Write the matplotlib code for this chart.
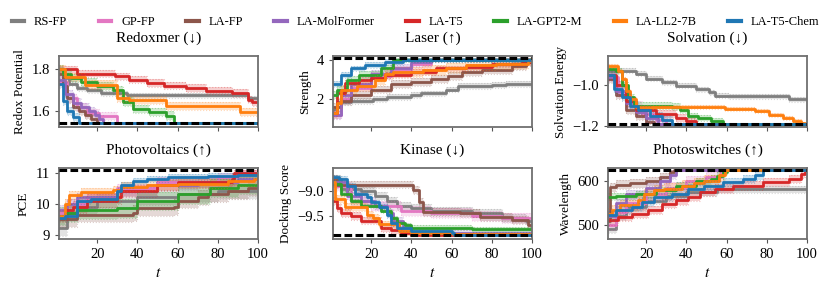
import numpy as np
import matplotlib
matplotlib.use("Agg")
import matplotlib.pyplot as plt
from matplotlib.lines import Line2D

plt.rcParams["font.family"] = ["Liberation Serif", "DejaVu Serif"]
plt.rcParams["mathtext.fontset"] = "stix"

# ----------------------------- DATA -----------------------------

methods = ["RS-FP", "GP-FP", "LA-FP", "LA-MolFormer", "LA-T5",
           "LA-GPT2-M", "LA-LL2-7B", "LA-T5-Chem"]
colors = ["#7f7f7f", "#e377c2", "#8c564b", "#9467bd", "#d62728",
          "#2ca02c", "#ff7f0e", "#1f77b4"]

# each curve: (iterations where best value changes, best value from there on)
redox = {
    "RS-FP": ([1, 3, 6, 10, 15, 22, 35, 95], [1.80, 1.76, 1.73, 1.71, 1.70, 1.685, 1.675, 1.662]),
    "GP-FP": ([1, 5, 10, 15, 21, 30], [1.74, 1.66, 1.62, 1.59, 1.575, 1.54]),
    "LA-FP": ([1, 3, 5, 8, 11, 14, 17, 20], [1.78, 1.72, 1.66, 1.62, 1.60, 1.58, 1.56, 1.54]),
    "LA-MolFormer": ([1, 4, 8, 12, 16, 19, 21, 23], [1.75, 1.68, 1.64, 1.62, 1.60, 1.58, 1.56, 1.54]),
    "LA-T5": ([1, 10, 29, 36, 45, 53, 64, 74, 87, 95, 97],
              [1.80, 1.78, 1.767, 1.751, 1.735, 1.722, 1.71, 1.698, 1.686, 1.654, 1.642]),
    "LA-GPT2-M": ([1, 3, 7, 12, 20, 28, 33, 38, 46, 54, 58],
                  [1.80, 1.78, 1.76, 1.74, 1.72, 1.70, 1.645, 1.61, 1.593, 1.577, 1.54]),
    "LA-LL2-7B": ([1, 4, 14, 30, 36, 54, 91], [1.80, 1.763, 1.727, 1.662, 1.654, 1.624, 1.593]),
    "LA-T5-Chem": ([1, 3, 5, 8, 11], [1.73, 1.65, 1.60, 1.57, 1.54]),
}
redox_band = [0.012, 0.02, 0.02, 0.02, 0.018, 0.02, 0.02, 0.02]

laser = {
    "RS-FP": ([1, 3, 10, 21, 28, 40, 45, 57, 63, 80, 87],
              [1.5, 1.85, 1.9, 2.0, 2.1, 2.2, 2.3, 2.5, 2.7, 2.75, 2.8]),
    "GP-FP": ([1, 5, 10, 20, 30, 40, 50], [1.2, 2.0, 2.6, 3.2, 3.5, 3.8, 4.0]),
    "LA-FP": ([1, 5, 10, 20, 30, 40, 50, 58, 65, 75, 90, 97],
              [1.6, 1.9, 2.2, 2.5, 2.8, 2.9, 3.05, 3.2, 3.4, 3.5, 3.7, 3.9]),
    "LA-MolFormer": ([1, 5, 10, 20, 30, 40, 50], [1.2, 2.2, 2.8, 3.3, 3.6, 3.9, 4.0]),
    "LA-T5": ([1, 3, 7, 14, 20, 27, 40, 52, 67, 80, 95],
              [1.3, 2.3, 2.83, 3.0, 3.08, 3.25, 3.42, 3.58, 3.67, 3.8, 3.9]),
    "LA-GPT2-M": ([1, 3, 8, 14, 25, 31], [2.2, 2.5, 3.0, 3.25, 3.58, 4.0]),
    "LA-LL2-7B": ([1, 3, 5, 13, 22, 27, 31, 46, 57, 67, 82, 98],
                  [1.3, 1.8, 2.5, 2.7, 3.0, 3.3, 3.4, 3.5, 3.6, 3.75, 3.8, 3.95]),
    "LA-T5-Chem": ([1, 5, 10, 17, 27, 36], [2.8, 3.25, 3.58, 3.78, 3.92, 4.0]),
}
laser_band = [0.15, 0.2, 0.2, 0.2, 0.15, 0.2, 0.25, 0.15]

solv = {
    "RS-FP": ([1, 15, 20, 28, 35, 45, 51, 54, 61, 91],
              [-0.93, -0.945, -0.97, -0.987, -1.003, -1.02, -1.035, -1.052, -1.055, -1.07]),
    "GP-FP": ([1, 6, 12, 18, 25, 30], [-0.96, -1.04, -1.10, -1.14, -1.17, -1.19]),
    "LA-FP": ([1, 5, 10, 15, 20, 24], [-0.97, -1.05, -1.12, -1.15, -1.18, -1.19]),
    "LA-MolFormer": ([1, 5, 10, 15, 20, 26], [-0.96, -1.03, -1.09, -1.13, -1.16, -1.19]),
    "LA-T5": ([1, 5, 10, 15, 25, 35, 40, 45], [-0.95, -1.0, -1.08, -1.12, -1.14, -1.16, -1.175, -1.19]),
    "LA-GPT2-M": ([1, 5, 8, 11, 14, 33, 37, 41, 46, 52, 58],
                  [-0.92, -0.93, -1.0, -1.06, -1.10, -1.105, -1.12, -1.15, -1.16, -1.175, -1.19]),
    "LA-LL2-7B": ([1, 6, 8, 10, 12, 15, 59, 74, 81, 88, 93, 97],
                  [-0.907, -0.93, -0.97, -1.03, -1.07, -1.107, -1.115, -1.125, -1.145, -1.16, -1.175, -1.185]),
    "LA-T5-Chem": ([1, 4, 8, 12, 16, 22, 28, 33], [-0.95, -1.02, -1.06, -1.10, -1.12, -1.15, -1.17, -1.19]),
}
solv_band = [0.012, 0.02, 0.02, 0.02, 0.02, 0.015, 0.01, 0.02]

pv = {
    "RS-FP": ([1, 5, 10, 20, 40, 60, 80], [9.2, 9.7, 9.9, 10.1, 10.2, 10.3, 10.4]),
    "GP-FP": ([1, 5, 15, 30, 50, 80, 90], [9.7, 10.0, 10.2, 10.5, 10.7, 10.85, 10.95]),
    "LA-FP": ([1, 10, 38, 40, 58, 60, 70, 75, 85, 95],
              [9.5, 9.65, 9.7, 9.85, 9.9, 10.1, 10.2, 10.3, 10.4, 10.5]),
    "LA-MolFormer": ([1, 5, 10, 30, 50, 70, 90], [9.8, 10.0, 10.2, 10.4, 10.6, 10.7, 10.8]),
    "LA-T5": ([1, 5, 8, 15, 30, 32, 50, 60, 87, 88],
              [9.6, 9.8, 9.9, 10.1, 10.2, 10.4, 10.6, 10.7, 10.8, 11.0]),
    "LA-GPT2-M": ([1, 4, 10, 30, 40, 60, 76, 90], [9.6, 9.7, 9.8, 9.85, 10.08, 10.3, 10.5, 10.6]),
    "LA-LL2-7B": ([1, 4, 6, 12, 28, 32, 45, 60, 85, 98],
                  [9.6, 10.0, 10.27, 10.37, 10.43, 10.55, 10.6, 10.65, 10.72, 10.8]),
    "LA-T5-Chem": ([1, 4, 10, 17, 30, 32, 38, 45, 55, 75, 90],
                   [9.55, 9.6, 10.1, 10.15, 10.4, 10.6, 10.72, 10.8, 10.85, 10.88, 10.93]),
}
pv_band = [0.25, 0.15, 0.25, 0.15, 0.2, 0.3, 0.15, 0.1]

kinase = {
    "RS-FP": ([1, 5, 15, 22, 28, 33, 40, 50, 70, 85, 97],
              [-8.75, -8.95, -9.0, -9.1, -9.2, -9.3, -9.35, -9.4, -9.45, -9.55, -9.62]),
    "GP-FP": ([1, 10, 20, 35, 50, 70, 85], [-8.9, -9.2, -9.3, -9.4, -9.45, -9.5, -9.55]),
    "LA-FP": ([1, 3, 41, 44, 46, 64, 74, 90, 98],
              [-8.74, -8.86, -8.98, -9.22, -9.42, -9.45, -9.52, -9.59, -9.69]),
    "LA-MolFormer": ([1, 8, 15, 22, 28, 31, 36, 40], [-8.8, -9.1, -9.2, -9.3, -9.45, -9.6, -9.75, -9.85]),
    "LA-T5": ([1, 3, 5, 10, 15, 25, 30, 35, 40], [-9.2, -9.35, -9.45, -9.5, -9.6, -9.75, -9.8, -9.85, -9.9]),
    "LA-GPT2-M": ([1, 5, 10, 15, 25, 30, 33, 37, 40, 70],
                  [-8.85, -9.05, -9.2, -9.3, -9.4, -9.55, -9.65, -9.7, -9.75, -9.78]),
    "LA-LL2-7B": ([1, 2, 7, 18, 21, 24, 34, 40, 60],
                  [-8.81, -9.15, -9.32, -9.49, -9.55, -9.68, -9.82, -9.85, -9.88]),
    "LA-T5-Chem": ([1, 4, 8, 12, 18, 20, 24, 28, 30, 33, 40, 60, 61],
                   [-8.71, -8.74, -8.88, -9.05, -9.11, -9.22, -9.32, -9.49, -9.66, -9.76, -9.82, -9.86, -9.9]),
}
kinase_band = [0.08, 0.1, 0.08, 0.08, 0.08, 0.05, 0.08, 0.05]

photo = {
    "RS-FP": ([1, 5, 10, 20, 30, 40, 55], [490, 520, 540, 555, 565, 575, 582]),
    "GP-FP": ([1, 5, 10, 20, 30, 40, 50, 57], [500, 530, 550, 570, 585, 600, 610, 625]),
    "LA-FP": ([1, 2, 5, 12, 20, 27, 32, 34], [510, 586, 592, 595, 600, 609, 620, 625]),
    "LA-MolFormer": ([1, 5, 10, 20, 27, 32, 35], [520, 550, 570, 585, 600, 615, 625]),
    "LA-T5": ([1, 6, 13, 21, 28, 35, 41, 47, 54, 63, 78, 91, 97, 99],
              [511, 519, 526, 534, 549, 556, 564, 575, 583, 590, 598, 605, 616, 625]),
    "LA-GPT2-M": ([1, 5, 15, 25, 35, 45, 52, 55, 58, 60], [564, 565, 570, 579, 590, 600, 605, 612, 620, 625]),
    "LA-LL2-7B": ([1, 3, 7, 16, 19, 24, 29, 38, 44, 49, 56, 59],
                  [526, 534, 545, 556, 571, 579, 583, 590, 595, 601, 613, 625]),
    "LA-T5-Chem": ([1, 5, 13, 18, 24, 33, 41, 49, 58, 68, 74, 78],
                   [522, 534, 541, 553, 564, 571, 583, 590, 598, 605, 613, 625]),
}
photo_band = [8, 12, 10, 10, 10, 8, 12, 10]

titles = ["Redoxmer (↓)", "Laser (↑)", "Solvation (↓)",
          "Photovoltaics (↑)", "Kinase (↓)", "Photoswitches (↑)"]
ylabels = ["Redox Potential", "Strength", "Solvation Energy",
           "PCE", "Docking Score", "Wavelength"]
optima = [1.54, 4.1, -1.19, 11.08, -9.9, 625]
yticks = [[1.6, 1.8], [2, 4], [-1.2, -1.0], [9, 10, 11], [-9.5, -9.0], [500, 600]]
ylims = [(1.522, 1.865), (0.58, 4.22), (-1.205, -0.858),
         (8.86, 11.15), (-9.98, -8.52), (468, 630)]
panels = [redox, laser, solv, pv, kinase, photo]
bands = [redox_band, laser_band, solv_band, pv_band, kinase_band, photo_band]

# ----------------------------- PLOT -----------------------------

fig = plt.figure(figsize=(8.31, 2.94), dpi=100)
lefts = [59 / 831, 333 / 831, 608 / 831]
bottoms = [1 - 127 / 294, 1 - 239 / 294]
w, h = 199 / 831, 71 / 294

for k in range(6):
    ax = fig.add_axes([lefts[k % 3], bottoms[k // 3], w, h])
    data = panels[k]
    opt = optima[k]
    for m, c, b in zip(methods, colors, bands[k]):
        t, v = data[m]
        t = np.array(t + [100])
        v = np.array(v + [v[-1]])
        bb = np.minimum(b, np.abs(v - opt))
        ax.fill_between(t, v - bb, v + bb, step="post", color=c, alpha=0.22, lw=0)
        ax.step(t, v - bb, where="post", color=c, alpha=0.3, lw=0.8, ls=":")
        ax.step(t, v + bb, where="post", color=c, alpha=0.3, lw=0.8, ls=":")
        ax.step(t, v, where="post", color=c, lw=2.0)
    ax.axhline(opt, color="black", lw=2.2, ls=(0, (2.5, 1.1)), zorder=5)
    ax.set_xlim(1, 100)
    ax.set_ylim(*ylims[k])
    ax.set_xticks([20, 40, 60, 80, 100])
    ax.set_yticks(yticks[k])
    ax.set_title(titles[k], fontsize=11, pad=10)
    ax.set_ylabel(ylabels[k], fontsize=9.5)
    ax.tick_params(labelsize=10.5, length=3, width=0.8, color="#555555")
    for s in ax.spines.values():
        s.set_color("#707070")
        s.set_linewidth(1.3)
    if k < 3:
        ax.set_xticklabels([])
    else:
        ax.set_xlabel("$t$", fontsize=11)

handles = [Line2D([0], [0], color=c, lw=3) for c in colors]
fig.legend(handles, methods, loc="center", bbox_to_anchor=(0.5, 0.925), ncol=8,
           frameon=False, fontsize=9, handlelength=1.0, handletextpad=0.8,
           columnspacing=2.5)

fig.savefig("out.png", dpi=100)
